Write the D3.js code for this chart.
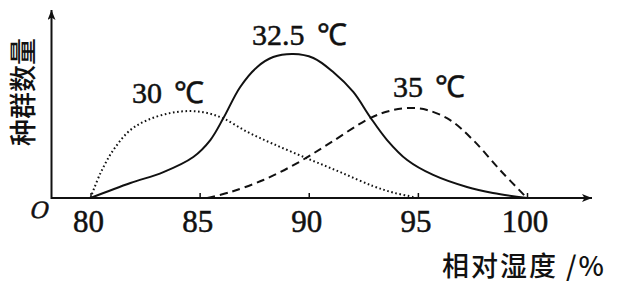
<!DOCTYPE html>
<html>
<head>
<meta charset="utf-8">
<script src="https://cdn.jsdelivr.net/npm/d3@7"></script>
<style>
  html, body { margin: 0; padding: 0; background: #fff; }
  svg { display: block; }
</style>
</head>
<body>
<svg id="chart" width="618" height="283"></svg>
<script>
// ---- data ----
const xTicks = [80, 85, 90, 95, 100];
const xLabel = "相对湿度 /%";
const yLabel = "种群数量";
const seriesNames = ["30 ℃", "32.5 ℃", "35 ℃"];

const humidity30 = [80, 80.46, 81.05, 81.83, 82.61, 83.66, 84.58, 85.35, 86.09, 87.19, 88.38, 89.93, 91.44, 92.95, 93.87, 94.78, 94.95];
const pop30      = [0, 1.39, 2.67, 3.78, 4.33, 4.72, 4.83, 4.72, 4.42, 3.67, 3.0, 2.2, 1.44, 0.66, 0.3, 0.06, 0];

const humidity325 = [80, 81.83, 83.34, 84.71, 85.49, 86.09, 86.86, 87.64, 88.37, 89.29, 90.21, 91.12, 92.04, 92.81, 93.59, 94.51, 95.70, 97.25, 98.44, 100];
const pop325      = [0, 0.83, 1.44, 2.28, 3.22, 4.44, 6.17, 7.28, 7.83, 8.0, 7.78, 7.0, 5.89, 4.5, 3.22, 2.11, 1.28, 0.61, 0.28, 0];

const humidity35 = [85.35, 86.41, 87.92, 89.47, 90.98, 92.81, 93.87, 94.65, 95.42, 96.48, 97.53, 98.76, 100];
const pop35      = [0, 0.33, 1.0, 1.94, 3.06, 4.44, 4.89, 5.0, 4.89, 4.33, 3.22, 1.56, 0];

// ---- layout ----
const svg = d3.select("#chart");
const x = d3.scaleLinear().domain([80, 100]).range([90.5, 527]);
const y = d3.scaleLinear().domain([0, 10]).range([198, 18]);

const axisX0 = 51.5, axisY0 = 198;
const SERIF = '"Liberation Serif"';
const CJK = '"Noto Sans CJK SC"';
const INK = "#111";

// arrow marker
const defs = svg.append("defs");
defs.append("marker")
  .attr("id", "arrow").attr("viewBox", "0 0 10 8")
  .attr("refX", 10).attr("refY", 4)
  .attr("markerWidth", 11).attr("markerHeight", 8)
  .attr("markerUnits", "userSpaceOnUse")
  .attr("orient", "auto")
  .append("path").attr("d", "M0,0 L10,4 L0,8 L2.5,4 Z").attr("fill", INK);

// axes lines
svg.append("line")
  .attr("x1", axisX0).attr("y1", axisY0).attr("x2", 592).attr("y2", axisY0)
  .attr("stroke", INK).attr("stroke-width", 2).attr("marker-end", "url(#arrow)");
svg.append("line")
  .attr("x1", axisX0).attr("y1", axisY0 + 1).attr("x2", axisX0).attr("y2", 10)
  .attr("stroke", INK).attr("stroke-width", 2).attr("marker-end", "url(#arrow)");

// ticks via d3 axis
const xAxis = d3.axisTop(x).tickValues(xTicks).tickSize(5).tickFormat("");
const gx = svg.append("g").attr("transform", `translate(0,${axisY0})`).call(xAxis);
gx.select(".domain").remove();
gx.selectAll(".tick line").attr("stroke", INK).attr("stroke-width", 1.5);

// tick labels
svg.append("g").selectAll("text").data(xTicks).join("text")
  .attr("x", d => x(d) - 2).attr("y", 232)
  .attr("text-anchor", "middle")
  .style("font-family", SERIF).style("font-size", "31px")
  .attr("fill", INK).attr("stroke", INK).attr("stroke-width", 0.5)
  .text(d => d);

// origin O (upright glyph skewed to look italic)
svg.append("text")
  .attr("transform", "translate(29,218) skewX(-14)")
  .style("font-family", SERIF).style("font-size", "25px")
  .attr("fill", INK).attr("stroke", INK).attr("stroke-width", 0.5).text("O");

// axis titles
svg.append("text")
  .attr("transform", "translate(21,92) rotate(-90)")
  .attr("text-anchor", "middle").attr("dominant-baseline", "central")
  .style("font-family", CJK).style("font-size", "27px").style("font-weight", 500).attr("fill", INK)
  .text(yLabel);
svg.append("text").attr("x", 442).attr("y", 276)
  .style("font-family", CJK).style("font-size", "27px").style("font-weight", 500).attr("fill", INK)
  .attr("letter-spacing", 2)
  .text(xLabel);

// curves
const line = d3.line().x(d => x(d[0])).y(d => y(d[1])).curve(d3.curveCatmullRom.alpha(0.5));
const s30 = d3.zip(humidity30, pop30);
const s325 = d3.zip(humidity325, pop325);
const s35 = d3.zip(humidity35, pop35);

svg.append("path").attr("d", line(s30)).attr("fill", "none")
  .attr("stroke", INK).attr("stroke-width", 2).attr("stroke-dasharray", "1.6,2.6");
svg.append("path").attr("d", line(s325)).attr("fill", "none")
  .attr("stroke", INK).attr("stroke-width", 2);
svg.append("path").attr("d", line(s35)).attr("fill", "none")
  .attr("stroke", INK).attr("stroke-width", 2).attr("stroke-dasharray", "8,5");

// series labels
const labelPos = [[132, 103], [252, 45], [393, 97]];
seriesNames.forEach((name, i) => {
  const parts = name.split(" ");
  const t = svg.append("text")
    .attr("x", labelPos[i][0]).attr("y", labelPos[i][1])
    .style("font-family", SERIF).style("font-size", "30px")
    .attr("fill", INK).attr("stroke", INK).attr("stroke-width", 0.5);
  t.append("tspan").text(parts[0]);
  t.append("tspan").attr("dx", 12).text(parts[1]);
});
</script>
</body>
</html>
